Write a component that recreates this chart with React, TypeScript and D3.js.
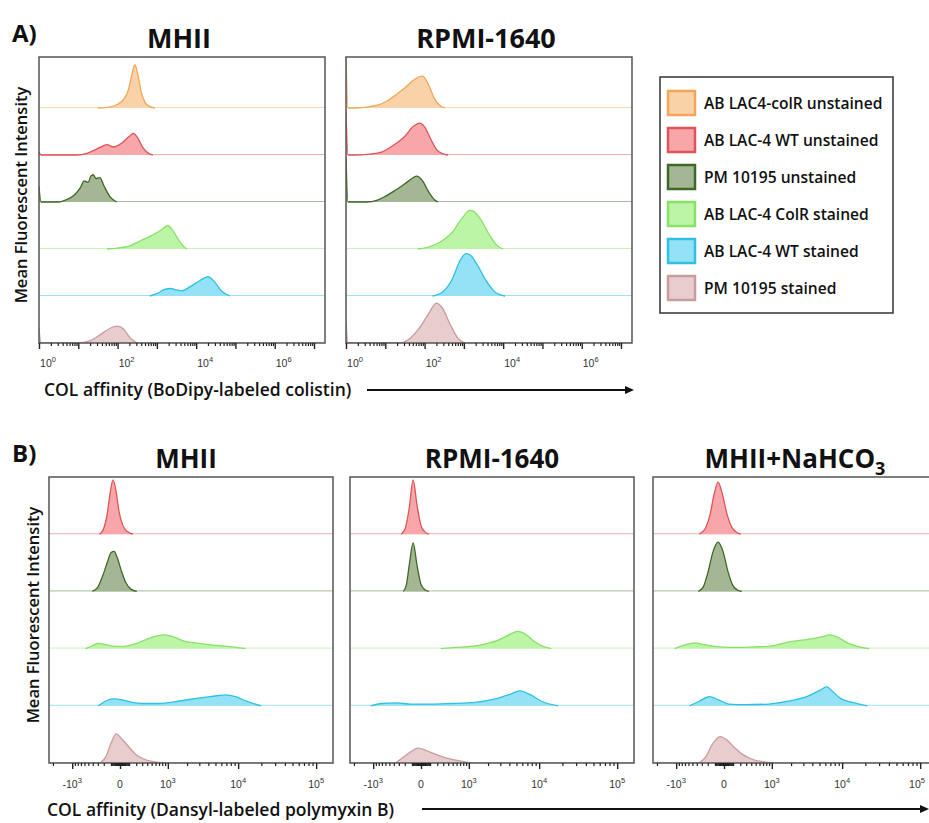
import React, { useEffect, useRef } from 'react';
import * as d3 from 'd3';

// Series (legend order)
const seriesNames = [
  'AB LAC4-colR unstained',
  'AB LAC-4 WT unstained',
  'PM 10195 unstained',
  'AB LAC-4 ColR stained',
  'AB LAC-4 WT stained',
  'PM 10195 stained',
];
const seriesFill = ['#FAD2A8', '#F7A7AA', '#A5B695', '#BDF5A6', '#93E2F6', '#E7CDCD'];
const seriesStroke = ['#F2A65A', '#DE5458', '#3F6826', '#88E168', '#2FC0E4', '#C99C9E'];

const panelATitles = ['MHII', 'RPMI-1640'];
const panelBTitles = ['MHII', 'RPMI-1640', 'MHII+NaHCO'];
const panelASeries = [0, 1, 2, 3, 4, 5];
const panelBSeries = [1, 2, 3, 4, 5];
const aLabelExps = [0, 2, 4, 6];
const bLabelVals = [-1000, 0, 1000, 10000, 100000];

// Panel A histograms: [log10 BoDipy intensity, relative count]
const aMhii = [
  [[1.5, 0], [1.8, 0.02], [2.0, 0.08], [2.15, 0.18], [2.28, 0.4], [2.36, 0.7], [2.44, 0.92], [2.52, 0.7], [2.6, 0.35], [2.7, 0.12], [2.8, 0.04], [2.95, 0]],
  [[0, 0.07], [0.05, 0], [0.97, 0], [1.2, 0.03], [1.4, 0.1], [1.6, 0.18], [1.73, 0.22], [1.9, 0.17], [2.1, 0.25], [2.3, 0.4], [2.4, 0.46], [2.5, 0.38], [2.65, 0.15], [2.8, 0.03], [2.9, 0]],
  [[0, 0.34], [0.05, 0], [0.5, 0], [0.7, 0.05], [0.9, 0.15], [1.05, 0.3], [1.15, 0.45], [1.25, 0.42], [1.32, 0.55], [1.38, 0.58], [1.45, 0.5], [1.55, 0.52], [1.65, 0.35], [1.8, 0.12], [1.98, 0]],
  [[1.73, 0], [2.0, 0.02], [2.3, 0.06], [2.57, 0.17], [2.85, 0.28], [3.1, 0.4], [3.28, 0.5], [3.4, 0.4], [3.55, 0.2], [3.7, 0.04], [3.77, 0]],
  [[2.82, 0], [3.0, 0.05], [3.2, 0.14], [3.35, 0.16], [3.5, 0.13], [3.63, 0.11], [3.85, 0.2], [4.1, 0.33], [4.3, 0.41], [4.45, 0.32], [4.65, 0.1], [4.86, 0]],
  [[0, 0.32], [0.05, 0], [1.04, 0], [1.3, 0.05], [1.6, 0.2], [1.85, 0.33], [2.0, 0.36], [2.15, 0.3], [2.3, 0.13], [2.49, 0]],
];
const aRpmi = [
  [[0, 1.05], [0.05, 0], [0.2, 0], [0.5, 0.02], [0.8, 0.06], [1.05, 0.15], [1.3, 0.3], [1.5, 0.43], [1.7, 0.58], [1.85, 0.66], [1.95, 0.68], [2.1, 0.5], [2.25, 0.2], [2.4, 0.05], [2.52, 0]],
  [[0, 0.95], [0.05, 0], [0.2, 0], [0.6, 0.02], [0.9, 0.06], [1.1, 0.15], [1.3, 0.26], [1.5, 0.4], [1.7, 0.6], [1.88, 0.68], [2.0, 0.6], [2.15, 0.35], [2.3, 0.12], [2.45, 0.03], [2.6, 0]],
  [[0, 0.95], [0.05, 0], [0.53, 0], [0.8, 0.04], [1.0, 0.12], [1.2, 0.22], [1.4, 0.33], [1.6, 0.45], [1.8, 0.55], [1.95, 0.45], [2.1, 0.22], [2.25, 0.05], [2.34, 0]],
  [[1.83, 0], [2.1, 0.04], [2.4, 0.15], [2.7, 0.35], [2.95, 0.65], [3.15, 0.82], [3.25, 0.8], [3.45, 0.6], [3.65, 0.3], [3.85, 0.07], [4.0, 0]],
  [[2.2, 0], [2.45, 0.08], [2.7, 0.35], [2.9, 0.75], [3.05, 0.9], [3.15, 0.88], [3.35, 0.65], [3.55, 0.35], [3.8, 0.08], [4.05, 0]],
  [[0, 0.45], [0.05, 0], [1.37, 0], [1.6, 0.08], [1.85, 0.3], [2.1, 0.62], [2.3, 0.85], [2.45, 0.75], [2.65, 0.4], [2.85, 0.1], [3.03, 0]],
];

// Panel B histograms: [Dansyl intensity (biexponential axis), relative count]
const bMhii = [
  [[-274, 0], [-208, 0.08], [-150, 0.35], [-110, 0.72], [-74, 0.95], [-40, 0.75], [-10, 0.4], [30, 0.15], [74, 0.05], [150, 0]],
  [[-409, 0], [-310, 0.06], [-224, 0.25], [-150, 0.5], [-98, 0.68], [-62, 0.7], [-30, 0.6], [10, 0.38], [62, 0.15], [123, 0.04], [208, 0]],
  [[-573, 0], [-409, 0.05], [-292, 0.09], [-178, 0.07], [-51, 0.04], [51, 0.04], [178, 0.08], [348, 0.15], [573, 0.21], [875, 0.24], [1277, 0.2], [1813, 0.13], [2970, 0.09], [4752, 0.06], [8200, 0.03], [12440, 0]],
  [[-292, 0], [-178, 0.08], [-62, 0.12], [30, 0.1], [136, 0.06], [292, 0.04], [655, 0.04], [1277, 0.07], [2145, 0.11], [3706, 0.15], [5537, 0.18], [6850, 0.19], [9240, 0.16], [12810, 0.08], [19900, 0]],
  [[-257, 0], [-164, 0.12], [-98, 0.35], [-40, 0.51], [19, 0.42], [98, 0.28], [193, 0.15], [328, 0.07], [573, 0.02], [875, 0]],
];
const bRpmi = [
  [[-257, 0], [-193, 0.1], [-136, 0.45], [-85, 0.95], [-40, 0.5], [0, 0.15], [40, 0.04], [85, 0]],
  [[-224, 0], [-178, 0.1], [-136, 0.45], [-85, 0.85], [-40, 0.45], [0, 0.12], [40, 0.03], [85, 0]],
  [[257, 0], [573, 0.02], [1062, 0.04], [1813, 0.08], [2970, 0.16], [4072, 0.25], [5210, 0.3], [6643, 0.25], [8705, 0.12], [11722, 0.03], [14410, 0]],
  [[-1100, 0], [-713, 0.04], [-348, 0.05], [-110, 0.03], [110, 0.03], [452, 0.04], [1277, 0.06], [2528, 0.12], [4072, 0.2], [5537, 0.26], [7494, 0.2], [10720, 0.08], [17700, 0]],
  [[-367, 0], [-224, 0.1], [-110, 0.2], [-30, 0.26], [51, 0.22], [178, 0.15], [348, 0.09], [655, 0.04], [1062, 0]],
];
const bNahco3 = [
  [[-348, 0], [-240, 0.1], [-164, 0.35], [-110, 0.7], [-62, 0.91], [-19, 0.72], [30, 0.35], [85, 0.12], [150, 0.03], [208, 0]],
  [[-367, 0], [-274, 0.08], [-193, 0.35], [-123, 0.7], [-62, 0.86], [-10, 0.7], [40, 0.35], [98, 0.1], [164, 0.02], [224, 0]],
  [[-1062, 0], [-713, 0.06], [-452, 0.1], [-257, 0.07], [-51, 0.03], [178, 0.02], [452, 0.03], [841, 0.04], [1277, 0.07], [1940, 0.12], [3481, 0.16], [5537, 0.21], [6850, 0.24], [8705, 0.2], [11722, 0.1], [15741, 0.04], [22370, 0]],
  [[-573, 0], [-348, 0.08], [-178, 0.16], [-51, 0.1], [51, 0.03], [257, 0.02], [875, 0.03], [1813, 0.08], [3481, 0.17], [5052, 0.27], [6254, 0.33], [7494, 0.25], [9520, 0.13], [13586, 0.06], [21100, 0]],
  [[-348, 0], [-224, 0.12], [-136, 0.32], [-40, 0.46], [30, 0.4], [110, 0.28], [224, 0.16], [409, 0.07], [713, 0.02], [1062, 0]],
];

const FONT = '"Open Sans", sans-serif';
const TICKFONT = '"Liberation Sans", Arial, sans-serif';

function ridges(svg, id, xs, yTop, yBot, rowH, curves, colorIdx, xOf) {
  const [x0, x1] = xs;
  svg.append('clipPath').attr('id', id).append('rect')
    .attr('x', x0).attr('y', yTop).attr('width', x1 - x0).attr('height', yBot - yTop);
  const g = svg.append('g').attr('clip-path', `url(#${id})`);
  const n = curves.length;
  curves.forEach((pts, i) => {
    const base = yBot - (n - 1 - i) * rowH;
    const c = colorIdx[i];
    g.append('line').attr('x1', x0).attr('x2', x1).attr('y1', base - 0.5).attr('y2', base - 0.5)
      .attr('stroke', seriesStroke[c]).attr('stroke-opacity', 0.45).attr('stroke-width', 1);
    const area = d3.area().x(d => xOf(d[0])).y0(base).y1(d => base - d[1] * rowH).curve(d3.curveMonotoneX);
    const line = d3.line().x(d => xOf(d[0])).y(d => base - d[1] * rowH).curve(d3.curveMonotoneX);
    g.append('path').attr('d', area(pts)).attr('fill', seriesFill[c]);
    g.append('path').attr('d', line(pts)).attr('fill', 'none')
      .attr('stroke', seriesStroke[c]).attr('stroke-width', 1.3).attr('stroke-linejoin', 'round');
  });
  svg.append('rect').attr('x', x0).attr('y', yTop).attr('width', x1 - x0).attr('height', yBot - yTop)
    .attr('fill', 'none').attr('stroke', '#555').attr('stroke-width', 1.5);
}

function ticks(svg, x, yBot, major, minor) {
  svg.append('g').attr('transform', `translate(0,${yBot})`)
    .call(d3.axisBottom(x).tickValues(minor).tickSize(3).tickFormat(() => ''))
    .call(a => a.select('.domain').remove())
    .call(a => a.selectAll('line').attr('stroke', '#222').attr('stroke-width', 1.2));
  svg.append('g').attr('transform', `translate(0,${yBot})`)
    .call(d3.axisBottom(x).tickValues(major).tickSize(6).tickFormat(() => ''))
    .call(a => a.select('.domain').remove())
    .call(a => a.selectAll('line').attr('stroke', '#222').attr('stroke-width', 1.4));
}

function expLabel(svg, x, y, prefix, exp) {
  const t = svg.append('text').attr('x', x).attr('y', y).attr('text-anchor', 'middle')
    .attr('font-family', TICKFONT).attr('font-size', 10.5).attr('fill', '#333');
  t.append('tspan').text(prefix);
  if (exp !== '') t.append('tspan').attr('dy', -5).attr('font-size', 7.5).text(exp);
}

function arrow(svg, xa, xb, y) {
  svg.append('line').attr('x1', xa).attr('x2', xb - 6).attr('y1', y).attr('y2', y)
    .attr('stroke', '#111').attr('stroke-width', 2);
  svg.append('path').attr('d', `M${xb},${y} L${xb - 9},${y - 4} L${xb - 9},${y + 4} Z`).attr('fill', '#111');
}

export default function App() {
  const svgRef = useRef(null);

  useEffect(() => {
    const svg = d3.select(svgRef.current);
    svg.selectAll('*').remove();

    // ---------- Panel A ----------
    const aFrames = [[39, 325], [346, 632]];
    const aTop = 57, aBot = 343, aRow = 47;
    const aData = [aMhii, aRpmi];
    svg.append('text').attr('x', 12).attr('y', 42).attr('font-family', FONT).attr('font-weight', 700)
      .attr('font-size', 24).attr('fill', '#111').text('A)');
    aFrames.forEach((fr, p) => {
      const x = d3.scaleLog().domain([1, 10 ** 7.28]).range(fr);
      ridges(svg, `clipA${p}`, fr, aTop, aBot, aRow, aData[p], panelASeries, v => x(10 ** v));
      const major = d3.range(0, 8).map(e => 10 ** e);
      const minor = [];
      for (let e = 0; e < 8; e++) for (let k = 2; k < 10; k++) if (k * 10 ** e < 10 ** 7.28) minor.push(k * 10 ** e);
      ticks(svg, x, aBot, major, minor);
      aLabelExps.forEach(e => expLabel(svg, x(10 ** e) + 9, 367, '10', String(e)));
      svg.append('text').attr('x', (fr[0] + fr[1]) / 2 - 3).attr('y', 48).attr('text-anchor', 'middle')
        .attr('font-family', FONT).attr('font-weight', 700).attr('font-size', 27).attr('fill', '#111')
        .text(panelATitles[p]);
    });
    svg.append('text').attr('transform', 'translate(27,195) rotate(-90)').attr('text-anchor', 'middle')
      .attr('font-family', FONT).attr('font-weight', 600).attr('font-size', 16.5).attr('fill', '#111')
      .text('Mean Fluorescent Intensity');
    svg.append('text').attr('x', 44).attr('y', 396).attr('font-family', FONT).attr('font-weight', 600)
      .attr('font-size', 17.5).attr('fill', '#111').text('COL affinity (BoDipy-labeled colistin)');
    arrow(svg, 367, 634, 390);

    // Legend
    const lg = svg.append('g');
    lg.append('rect').attr('x', 660).attr('y', 77).attr('width', 233).attr('height', 236)
      .attr('fill', 'white').attr('stroke', '#333').attr('stroke-width', 1.5);
    seriesNames.forEach((name, i) => {
      const cy = 103 + i * 37;
      lg.append('rect').attr('x', 668).attr('y', cy - 12).attr('width', 27).attr('height', 24)
        .attr('fill', seriesFill[i]).attr('stroke', seriesStroke[i]).attr('stroke-width', 2.5);
      lg.append('text').attr('x', 704).attr('y', cy + 5.5).attr('font-family', FONT).attr('font-weight', 600)
        .attr('font-size', 15.6).attr('fill', '#111').text(name);
    });

    // ---------- Panel B ----------
    const bFrames = [[49, 333], [350, 634], [653, 937]];
    const bTop = 477, bBot = 763, bRow = (763 - 477) / 5;
    const bData = [bMhii, bRpmi, bNahco3];
    svg.append('text').attr('x', 12).attr('y', 462).attr('font-family', FONT).attr('font-weight', 700)
      .attr('font-size', 24).attr('fill', '#111').text('B)');
    bFrames.forEach((fr, p) => {
      const x = d3.scaleSymlog().constant(330).domain([-2284, 163600]).range(fr);
      ridges(svg, `clipB${p}`, fr, bTop, bBot, bRow, bData[p], panelBSeries, v => x(v));
      const minor = [];
      [10, 100].forEach(m => d3.range(1, 10).forEach(k => { minor.push(k * m); minor.push(-k * m); }));
      [1000, 10000].forEach(m => d3.range(2, 10).forEach(k => minor.push(k * m)));
      minor.push(-2000);
      ticks(svg, x, bBot, bLabelVals, minor);
      bLabelVals.forEach(v => {
        const lx = Math.min(x(v), 917);
        if (v === 0) expLabel(svg, lx, 788, '0', '');
        else expLabel(svg, lx, 788, (v < 0 ? '-' : '') + '10', String(Math.round(Math.log10(Math.abs(v)))));
      });
      const title = svg.append('text').attr('x', [186, 492, 795][p]).attr('y', 468).attr('text-anchor', 'middle')
        .attr('font-family', FONT).attr('font-weight', 700).attr('font-size', 26).attr('fill', '#111');
      title.append('tspan').text(panelBTitles[p]);
      if (p === 2) title.append('tspan').attr('dy', 7).attr('font-size', 18).text('3');
    });
    svg.append('text').attr('transform', 'translate(39,615) rotate(-90)').attr('text-anchor', 'middle')
      .attr('font-family', FONT).attr('font-weight', 600).attr('font-size', 16.5).attr('fill', '#111')
      .text('Mean Fluorescent Intensity');
    svg.append('text').attr('x', 47).attr('y', 816).attr('font-family', FONT).attr('font-weight', 600)
      .attr('font-size', 17.5).attr('fill', '#111').text('COL affinity (Dansyl-labeled polymyxin B)');
    arrow(svg, 422, 929, 809);
  }, []);

  return (
    <svg ref={svgRef} width={929} height={823}
      style={{ display: 'block', position: 'absolute', left: 0, top: 0, background: 'white' }} />
  );
}
